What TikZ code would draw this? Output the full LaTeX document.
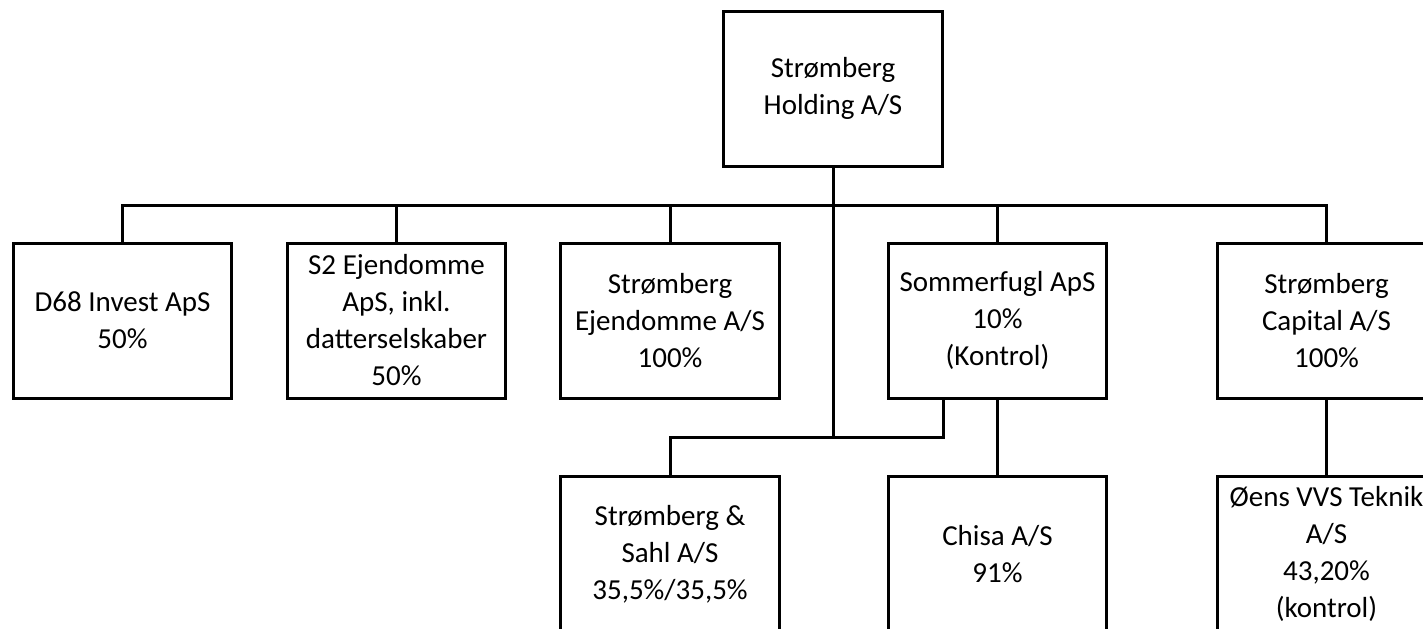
\documentclass[tikz,border=0pt]{standalone}
\usepackage{fontspec}
\setmainfont{Carlito}

\tikzset{
  firm/.style={draw, line width=2.25pt, minimum width=164pt, minimum height=116.25pt,
    inner xsep=3pt, align=center,
    font=\fontsize{21.75}{27.75}\selectfont},
  link/.style={line width=2.25pt}
}

\newcommand{\Firm}[4]{% name, x, y, text
  \node[firm] (#1) at (#2,#3) {#4};
}

\begin{document}
\begin{tikzpicture}[x=0.75pt,y=-0.75pt]
  \useasboundingbox (0,0) rectangle (1423,628);
  \clip (0,0) rectangle (1423,628);
  %
  \Firm{holding}{833}{88.5}{Strømberg\\Holding A/S}
  \Firm{d68}{122.5}{320.5}{D68 Invest ApS\\50\%}
  \Firm{s2}{396.5}{320.5}{S2 Ejendomme\\ApS, inkl.\\datterselskaber\\50\%}
  \Firm{ejendomme}{670}{320.5}{Strømberg\\Ejendomme A/S\\100\%}
  \Firm{sommerfugl}{997.5}{320.5}{Sommerfugl ApS\\10\%\\(Kontrol)}
  \Firm{capital}{1326.5}{320.5}{Strømberg\\Capital A/S\\100\%}
  %
  \Firm{sahl}{670}{554}{Strømberg \&\\Sahl A/S\\35,5\%/35,5\%}
  \Firm{chisa}{997.5}{554}{Chisa A/S\\91\%}
  \Firm{oens}{1326.5}{554}{Øens VVS Teknik\\A/S\\43,20\%\\(kontrol)}
  %
  \coordinate (bus) at (833,205);
  \coordinate (join) at (833,437);
  \coordinate (knot) at (943,437);
  %
  \draw[link] (d68.north) |- (bus) -| (capital.north);
  \draw[link] (s2.north) -- (s2.north |- bus);
  \draw[link] (ejendomme.north) -- (ejendomme.north |- bus);
  \draw[link] (sommerfugl.north) -- (sommerfugl.north |- bus);
  \draw[link] (holding.south) -- (join) -| (sahl.north);
  \draw[link] (join) -- (knot) -- (knot |- sommerfugl.south);
  \draw[link] (sommerfugl.south) -- (chisa.north);
  \draw[link] (capital.south) -- (oens.north);
\end{tikzpicture}
\end{document}
